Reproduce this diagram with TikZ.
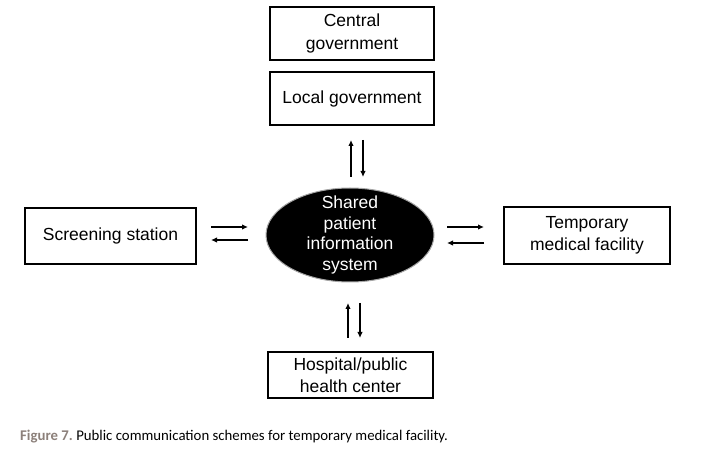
\documentclass[tikz,border=0pt]{standalone}
\usepackage{fontspec}
\setmainfont{Liberation Sans}
\newfontfamily\capfont{Carlito}
\usetikzlibrary{arrows.meta,shapes.geometric}
\definecolor{capgray}{RGB}{140,128,122}
\begin{document}
\begin{tikzpicture}[x=1pt,y=1pt,
  box/.style={draw=black,line width=1.8pt,minimum width=#1,align=center,inner sep=0pt,
    font=\fontsize{17.5}{22.5}\selectfont},
  flow/.style={line width=1.3pt,-{Latex[length=6pt,width=5.5pt]}}]
\useasboundingbox (0,0) rectangle (704,458);
\node[box=164pt,minimum height=53pt] (central) at (352,424.5) {Central\\government};
\node[box=164pt,minimum height=53pt] (local) at (352,359.5) {Local government};
\node[box=171pt,minimum height=56pt] (screen) at (110.5,222) {Screening station};
\node[box=166pt,minimum height=57pt] (temp) at (587,222.5) {Temporary\\medical facility};
\node[box=165pt,minimum height=46pt] (hosp) at (350.5,83) {Hospital/public\\health center};
\node[ellipse,fill=black,draw=gray!70,line width=1pt,minimum width=168pt,minimum height=94pt,
  inner xsep=0pt,inner ysep=-10pt,text=white,align=center,font=\fontsize{17.5}{20.5}\selectfont] (sys) at (350,223)
  {Shared\\patient\\information\\system};
% top arrows
\coordinate (t1a) at (351,281); \coordinate (t1b) at (351,318);
\coordinate (t2a) at (363,318); \coordinate (t2b) at (363,281);
\draw[flow] (t1a) -- (t1b);
\draw[flow] (t2a) -- (t2b);
% left arrows
\coordinate (l1a) at (211,231); \coordinate (l1b) at (248,231);
\coordinate (l2a) at (248,218); \coordinate (l2b) at (211,218);
\draw[flow] (l1a) -- (l1b);
\draw[flow] (l2a) -- (l2b);
% right arrows
\coordinate (r1a) at (447,231); \coordinate (r1b) at (484,231);
\coordinate (r2a) at (484,215); \coordinate (r2b) at (447,215);
\draw[flow] (r1a) -- (r1b);
\draw[flow] (r2a) -- (r2b);
% bottom arrows
\coordinate (b1a) at (348,120); \coordinate (b1b) at (348,155);
\coordinate (b2a) at (360,155); \coordinate (b2b) at (360,120);
\draw[flow] (b1a) -- (b1b);
\draw[flow] (b2a) -- (b2b);
\node[anchor=west,inner sep=0pt,font=\capfont\fontsize{14.8}{16}\selectfont] (cap) at (20,21)
  {\textcolor{capgray}{\textbf{Figure 7.}}\ Public communication schemes for temporary medical facility.};
\end{tikzpicture}
\end{document}
